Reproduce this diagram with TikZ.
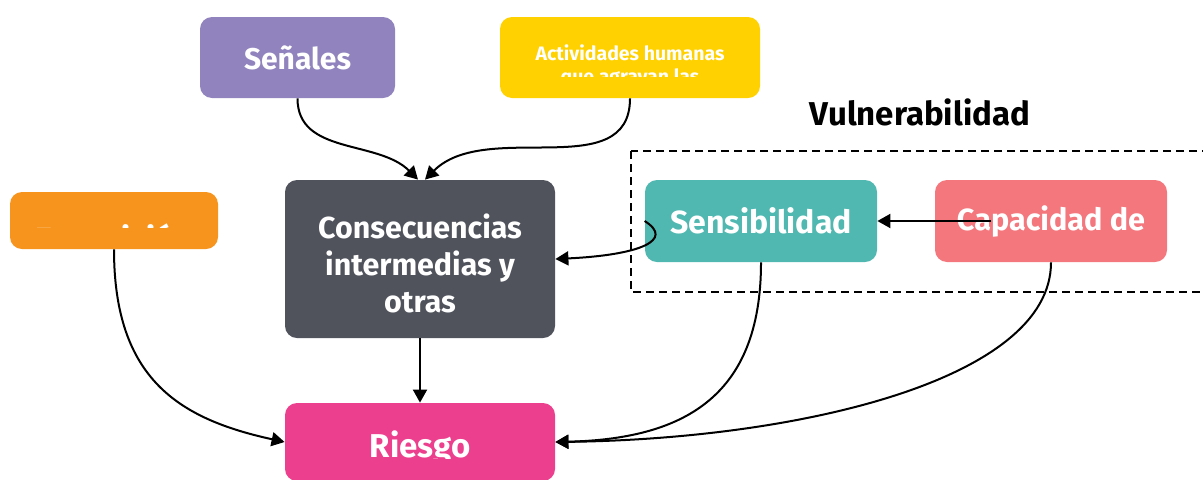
\documentclass[tikz,border=0pt]{standalone}
\usepackage{fontspec}
\setmainfont{Fira Sans}
\usetikzlibrary{arrows.meta}
\definecolor{cmorado}{RGB}{145,132,190}
\definecolor{camarillo}{RGB}{255,209,0}
\definecolor{cnaranja}{RGB}{247,148,29}
\definecolor{cgris}{RGB}{80,83,92}
\definecolor{cturquesa}{RGB}{80,184,177}
\definecolor{csalmon}{RGB}{243,119,125}
\definecolor{crosa}{RGB}{236,63,141}
\tikzset{
  mapa/.style={x=0.5pt,y=0.5pt,>={Triangle[length=6.5pt,width=7pt]}},
  caja/.style={rounded corners=6pt,inner sep=0pt,text=white,align=center},
  fuente/.style={font=\bfseries\fontsize{#1}{18.5}\selectfont},
  flecha/.style={->,line width=1pt},
}

\begin{document}
\begin{tikzpicture}[mapa]
    \useasboundingbox (0,0) rectangle (1203,479);
    \draw[line width=0.8pt,dash pattern=on 4pt off 2.5pt] (631,328) rectangle (1215,187);
    \node[fuente=16.5] (vulner) at (920,367) {Vulnerabilidad};
    % cajas
    \node[caja,fill=cmorado,minimum width=97.5pt,minimum height=40.5pt,fuente=15] (senales) at (297.5,421.5) {Señales};
    \node[caja,fill=camarillo,minimum width=130pt,minimum height=40.5pt] (activ) at (630,421.5) {};
    \node[caja,fill=cnaranja,minimum width=104pt,minimum height=28.5pt] (expo) at (114,258.5) {};
    \node[caja,fill=cgris,minimum width=135pt,minimum height=79pt] (consec) at (420,220) {};
    \node[fuente=15.2,text=white,align=center] (consecT) at (420,216) {Consecuencias\\intermedias y\\otras};
    \node[caja,fill=cturquesa,minimum width=116pt,minimum height=41pt,fuente=16] (sens) at (761,258) {Sensibilidad};
    \node[caja,fill=csalmon,minimum width=116pt,minimum height=41pt,fuente=15.3] (capac) at (1051,258) {Capacidad de};
    \node[caja,fill=crosa,minimum width=135pt,minimum height=39pt] (riesgo) at (420,37) {};
    % textos cortados
    \begin{scope}
      \clip (500,403) rectangle (760,462);
      \node[fuente=9.75,text=white,anchor=base] (activA) at (630,419) {Actividades humanas};
      \node[fuente=9.75,text=white,anchor=base] (activB) at (630,396) {que agravan las};
    \end{scope}
    \begin{scope}
      \clip (10,252) rectangle (218,287);
      \node[fuente=16,text=white,anchor=base] (expoT) at (114,229) {Exposición};
    \end{scope}
    \begin{scope}
      \clip (285,21) rectangle (555,76);
      \node[fuente=16.5,text=white,anchor=base] (riesgoT) at (420,22) {Riesgo};
    \end{scope}
    % flechas
    \draw[flecha] (senales.south) to[out=-90,in=135] ([xshift=-1pt]consec.north);
    \draw[flecha] (activ.south) to[out=-90,in=45] ([xshift=2.5pt]consec.north);
    \draw[flecha] (sens.west) .. controls (675,239) and (640,224) .. (consec.east);
    \draw[flecha] ([xshift=-30pt]capac.center) -- (sens.east);
    \draw[flecha] (consec.south) -- (riesgo.north);
    \draw[flecha] (expo.south) .. controls +(0,-130) and +(-105,23) .. (riesgo.west);
    \draw[flecha] (sens.south) .. controls +(0,-137) and +(125,3) .. (riesgo.east);
    \draw[flecha] (capac.south) .. controls +(0,-117) and +(245,3) .. (riesgo.east);
\end{tikzpicture}
\end{document}
